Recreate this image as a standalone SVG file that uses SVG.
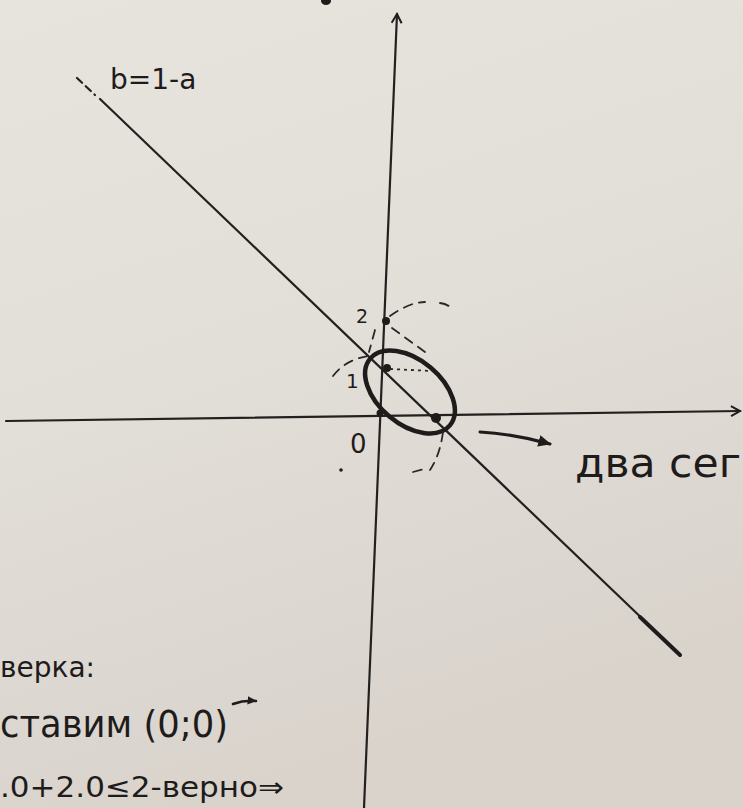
<svg xmlns="http://www.w3.org/2000/svg" width="743" height="808" viewBox="0 0 743 808">
  <defs>
    <linearGradient id="paper" x1="0" y1="0" x2="0.3" y2="1">
      <stop offset="0" stop-color="#e7e4de"/>
      <stop offset="0.5" stop-color="#e2ded8"/>
      <stop offset="1" stop-color="#d9d3cc"/>
    </linearGradient>
    <marker id="open" viewBox="0 0 12 12" refX="10" refY="6" markerWidth="12" markerHeight="12" markerUnits="userSpaceOnUse" orient="auto">
      <path d="M1,1 L10,6 L1,11" fill="none" stroke="#1f1d1c" stroke-width="2"/>
    </marker>
    <marker id="solid" viewBox="0 0 12 12" refX="10" refY="6" markerWidth="14" markerHeight="14" markerUnits="userSpaceOnUse" orient="auto">
      <path d="M0,1 L11,6 L0,11 Z" fill="#1f1d1c"/>
    </marker>
    <marker id="small" viewBox="0 0 12 12" refX="10" refY="6" markerWidth="10" markerHeight="10" markerUnits="userSpaceOnUse" orient="auto">
      <path d="M0,1 L11,6 L0,11 Z" fill="#1f1d1c"/>
    </marker>
  </defs>
  <style>
    .ax { stroke: #232120; stroke-width: 2.2; fill: none; stroke-linecap: round; }
    .hw { font-family: "DejaVu Sans", "Noto Sans", sans-serif; fill: #1e1c1b; }
    .dash { stroke: #2a2826; stroke-width: 1.8; fill: none; stroke-dasharray: 9 7; stroke-linecap: round; }
    .dot { fill: #1e1c1b; }
  </style>
  <rect width="743" height="808" fill="url(#paper)"/>

  <g id="axes">
    <path class="ax" d="M6,421 L740,411" marker-end="url(#open)"/>
    <path class="ax" d="M364,808 L397,14" marker-end="url(#open)"/>
  </g>

  <g id="line-b">
    <path class="ax" d="M77,78 L95,95" stroke-dasharray="7 5"/>
    <path class="ax" d="M100,99 L650,626"/>
    <path d="M640,617 L680,655" stroke="#1e1c1b" stroke-width="4" stroke-linecap="round"/>
    <text class="hw" x="110" y="89" font-size="28">b=1-a</text>
  </g>

  <g id="region">
    <ellipse cx="410" cy="392" rx="52" ry="32" transform="rotate(40 410 392)" fill="none" stroke="#1e1c1b" stroke-width="4.5"/>
    <circle class="dot" cx="386" cy="321" r="4"/>
    <circle class="dot" cx="387" cy="368" r="4"/>
    <circle class="dot" cx="380" cy="413" r="3.5"/>
    <circle class="dot" cx="436" cy="418" r="5"/>
    <circle class="dot" cx="341" cy="470" r="1.8"/>
    <ellipse class="dot" cx="326" cy="1" rx="5" ry="4"/>
  </g>

  <g id="dashes">
    <path class="dash" d="M390,316 Q410,302 425,302"/>
    <path class="dash" d="M440,303 Q448,304 452,309"/>
    <path class="dash" d="M392,328 L425,352"/>
    <path class="dash" d="M375,330 L369,352"/>
    <path class="dash" d="M333,376 Q345,360 368,356"/>
    <path d="M390,369 L432,371" stroke="#2a2826" stroke-width="1.8" stroke-dasharray="3 4" fill="none"/>
    <path class="dash" d="M443,432 Q440,455 430,470"/>
    <path class="dash" d="M413,472 L428,468"/>
  </g>

  <g id="labels">
    <text class="hw" x="356" y="323" font-size="19">2</text>
    <text class="hw" x="346" y="388" font-size="20">1</text>
    <text class="hw" x="350" y="453" font-size="26">0</text>
  </g>

  <g id="note-arrow">
    <path d="M480,432 Q515,434 550,444" stroke="#1e1c1b" stroke-width="3" fill="none" stroke-linecap="round" marker-end="url(#solid)"/>
    <text class="hw" x="575" y="477" font-size="40" textLength="166" lengthAdjust="spacingAndGlyphs">два сег</text>
  </g>

  <g id="check">
    <text class="hw" x="0" y="677" font-size="28">верка:</text>
    <text class="hw" x="0" y="737" font-size="38" textLength="228" lengthAdjust="spacingAndGlyphs">ставим (0;0)</text>
    <path d="M233,704 Q244,700 256,701" stroke="#1e1c1b" stroke-width="2.6" fill="none" stroke-linecap="round" marker-end="url(#small)"/>
    <text class="hw" x="0" y="797" font-size="28" textLength="284" lengthAdjust="spacingAndGlyphs">.0+2.0≤2-верно⇒</text>
  </g>
</svg>
